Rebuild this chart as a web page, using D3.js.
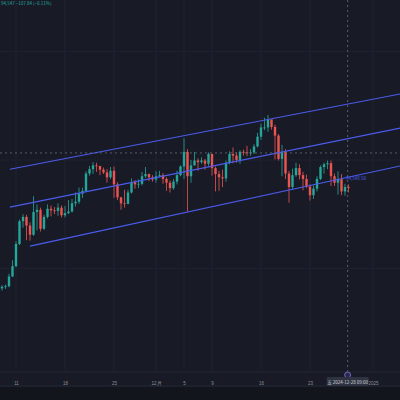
<!DOCTYPE html>
<html><head><meta charset="utf-8">
<script src="https://cdn.jsdelivr.net/npm/d3@7"></script>
<style>body{margin:0;background:#181b26;}svg{display:block;font-family:"Noto Sans CJK SC","DejaVu Sans",sans-serif;}</style>
</head><body>
<script>
// 12h candles from 2024-11-09 00:00, prices in thousands
var closes = [76.6,76.7, 78.5,80.4, 84.5,88.7, 89.5,87.9, 86.2,90.4, 90.8,87.3, 89.5,91.0, 90.7,90.6, 91.2,89.8, 90.2,90.5,
  92.0,92.3, 93.8,94.3, 97.5,98.3, 99.0,98.9, 98.2,97.7, 96.8,98.0, 95.5,93.1, 92.0,91.9, 94.0,95.9, 95.5,95.6, 97.0,97.4, 96.8,96.4,
  97.0,97.2, 96.5,95.8, 94.8,96.0, 97.2,98.8, 101.5,97.0, 99.0,99.9, 99.6,99.9, 99.3,101.1, 98.5,97.4, 96.8,96.6, 99.5,101.1, 100.8,100.0,
  101.5,101.4, 101.3,101.4, 102.5,104.3, 106.0,106.0, 107.5,106.1, 104.5,100.2, 101.5,97.5, 95.0,97.2, 98.5,97.2, 96.5,95.1, 93.5,94.7,
  96.5,98.7, 99.2,99.4, 97.0,95.8, 96.5,94.2, 95.0,94.8];
var highs = [76.9,77.0, 79.0,81.5, 85.0,89.0, 90.0,89.9, 88.5,93.3, 91.8,91.2, 89.9,91.8, 91.6,91.3, 92.0,91.6, 91.5,92.6,
  92.8,94.0, 94.9,94.9, 97.9,98.9, 99.6,99.5, 98.8,98.6, 98.3,98.7, 98.8,95.9, 93.2,94.5, 94.5,96.6, 96.3,96.4, 97.8,98.7, 97.5,97.2,
  97.9,98.0, 97.6,96.8, 96.2,96.5, 98.0,99.0, 104.0,102.0, 100.0,101.5, 100.3,100.5, 100.2,101.4, 101.2,98.8, 98.0,98.2, 99.9,101.6, 102.3,101.4,
  101.8,101.9, 102.6,102.0, 102.9,105.0, 106.7,107.8, 108.3,107.3, 106.5,104.8, 102.8,102.0, 98.0,98.4, 99.5,99.2, 97.8,97.3, 95.5,95.3,
  97.0,99.0, 99.5,99.9, 99.9,97.5, 97.9,97.4, 95.6,95.5];
var lows = [75.9,76.2, 76.5,78.4, 80.2,84.3, 87.5,85.2, 85.1,86.0, 87.0,86.8, 87.1,89.2, 89.6,90.0, 89.7,89.4, 89.4,90.0,
  90.3,91.4, 91.9,93.0, 94.1,97.1, 97.4,97.8, 97.2,97.4, 95.8,96.5, 93.0,92.6, 90.8,91.2, 91.8,93.8, 94.7,94.8, 95.3,96.7, 96.1,96.0,
  95.8,96.8, 95.6,94.3, 94.0,94.5, 95.5,97.0, 96.5,90.5, 95.8,99.0, 98.0,99.3, 98.2,98.9, 97.1,94.2, 94.3,95.0, 96.0,99.2, 99.4,99.5,
  99.3,100.8, 100.7,100.8, 101.1,102.3, 103.7,105.5, 105.2,105.6, 100.1,99.9, 97.0,96.5, 92.1,94.5, 96.9,96.4, 94.4,94.8, 92.5,92.8,
  94.2,96.3, 97.5,98.3, 95.2,95.2, 93.6,93.5, 93.4,94.0];
var firstOpen = 76.3;

var tickDates = ["2024-11-11","2024-11-18","2024-11-25","2024-12-01","2024-12-05","2024-12-09","2024-12-16","2024-12-23","2025-01-01"];
var tickLabels = ["11","18","25","12月","5","9","16","23","2025"];
var gridPrices = [80, 100, 120];

// channel lines: [date, price]
var upperLine = [["2024-11-10T03:00", 98.3], ["2025-01-04T22:00", 112.2]];
var middleLine = [["2024-11-10T03:00", 91.3], ["2025-01-04T22:00", 105.9]];
var lowerLine = [["2024-11-13T00:00", 84.1], ["2025-01-04T22:00", 98.9]];

var crossDate = "2024-12-28T09:00";
var crossPrice = 101.3;

var width = 400, height = 400;
var svg = d3.select("body").append("svg").attr("width", width).attr("height", height);

var parse = function(s){ return new Date(s.length > 10 ? s : s + "T00:00"); };
var start = new Date("2024-11-09T00:00");
var data = closes.map(function(c, i){
    return {t: new Date(start.getTime() + i*12*3600e3),
            o: i == 0 ? firstOpen : closes[i-1], h: highs[i], l: lows[i], c: c};
});

var x = d3.scaleTime()
    .domain([parse("2024-11-11"), parse("2024-12-28")])
    .range([16, 345]);
var y = d3.scaleLinear().domain([88, 108.3]).range([225, 115]);

svg.append("rect").attr("width", width).attr("height", height).attr("fill", "#181b26");

// grid
svg.append("g").selectAll("line").data(tickDates).join("line")
    .attr("x1", function(d){ return x(parse(d)); }).attr("x2", function(d){ return x(parse(d)); })
    .attr("y1", 0).attr("y2", 370).attr("stroke", "#1f2230");
svg.append("g").selectAll("line").data(gridPrices).join("line")
    .attr("x1", 0).attr("x2", width).attr("y1", function(d){ return y(d); }).attr("y2", function(d){ return y(d); })
    .attr("stroke", "#1f2230");

// candles
var bw = 2.4;
var candle = svg.append("g").selectAll("g").data(data).join("g")
    .attr("transform", function(d){ return "translate(" + x(d.t) + ",0)"; });
candle.append("line")
    .attr("y1", function(d){ return y(d.h); }).attr("y2", function(d){ return y(d.l); })
    .attr("stroke", function(d){ return d.c >= d.o ? "#26a69a" : "#ef5350"; }).attr("stroke-width", 0.8);
candle.append("rect")
    .attr("x", -bw/2).attr("width", bw)
    .attr("y", function(d){ return y(Math.max(d.o, d.c)); })
    .attr("height", function(d){ return Math.max(0.8, Math.abs(y(d.o) - y(d.c))); })
    .attr("fill", function(d){ return d.c >= d.o ? "#26a69a" : "#ef5350"; });

// channel
var line = d3.line().x(function(d){ return x(parse(d[0])); }).y(function(d){ return y(d[1]); });
[upperLine, middleLine, lowerLine].forEach(function(l){
    svg.append("path").attr("d", line(l)).attr("fill", "none")
        .attr("stroke", "#4a5cf0").attr("stroke-width", 1.1);
});

// crosshair
svg.append("line").attr("x1", 0).attr("x2", width).attr("y1", y(crossPrice)).attr("y2", y(crossPrice))
    .attr("stroke", "#6a6d78").attr("stroke-dasharray", "2,3").attr("stroke-width", 0.8);
svg.append("line").attr("x1", x(parse(crossDate))).attr("x2", x(parse(crossDate))).attr("y1", 0).attr("y2", 372)
    .attr("stroke", "#6a6d78").attr("stroke-dasharray", "2,3").attr("stroke-width", 0.8);

svg.append("text").attr("x", 346).attr("y", 180).attr("font-size", 4.5).attr("fill", "#4a5cf0").text("94,548.50");

svg.append("text").attr("x", 1).attr("y", 5).attr("font-size", 4.5).attr("fill", "#26a69a")
    .text("94,547 −107.84 (−0.11%)");

// time axis
svg.append("line").attr("x1", 0).attr("x2", width).attr("y1", 372).attr("y2", 372).attr("stroke", "#232634");
svg.append("line").attr("x1", 0).attr("x2", width).attr("y1", 386).attr("y2", 386).attr("stroke", "#232634");
svg.append("rect").attr("y", 387).attr("width", width).attr("height", 13).attr("fill", "#13151d");
var xAxis = d3.axisBottom(x).tickValues(tickDates.map(parse))
    .tickFormat(function(d, i){ return tickLabels[i]; }).tickSize(0);
var ax = svg.append("g").attr("transform", "translate(0,379)").call(xAxis);
ax.select(".domain").remove();
ax.selectAll("text").attr("fill", "#8a8d98").attr("font-size", 4.5);

var cx = x(parse(crossDate));
svg.append("circle").attr("cx", cx).attr("cy", 375).attr("r", 3)
    .attr("fill", "#2a2850").attr("stroke", "#8878e0").attr("stroke-width", 0.8);
svg.append("rect").attr("x", cx - 21).attr("y", 377).attr("width", 42).attr("height", 9).attr("fill", "#2f3240").attr("rx", 1);
svg.append("text").attr("x", cx).attr("y", 383.5).attr("text-anchor", "middle").attr("font-size", 4.5)
    .attr("fill", "#d1d4dc").text("五 2024-12-28   09:00");
</script>
</body></html>
